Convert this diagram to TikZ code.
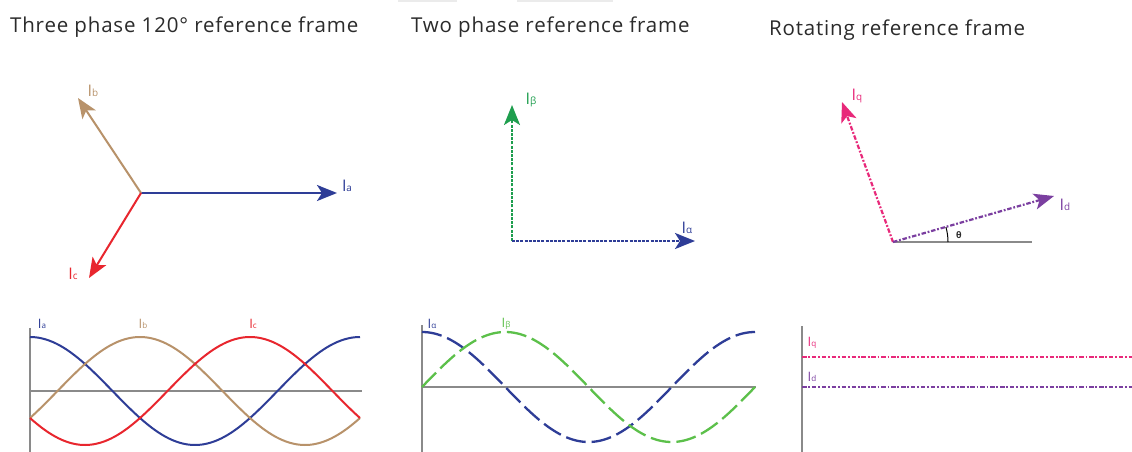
\documentclass[tikz,border=0pt]{standalone}
\usepackage{fontspec}
\setmainfont{Open Sans}
\usetikzlibrary{arrows.meta,calc}
\definecolor{cA}{HTML}{2E3D97}
\definecolor{cB}{HTML}{B8926A}
\definecolor{cC}{HTML}{E8262E}
\definecolor{cG}{HTML}{1E9E4E}
\definecolor{cLG}{HTML}{5CC04A}
\definecolor{cQ}{HTML}{E8297A}
\definecolor{cD}{HTML}{7B3FA0}
\definecolor{cAx}{HTML}{8A8A8A}
\definecolor{cT}{HTML}{2B2B2B}
\newcommand{\lsub}[1]{{\fontsize{0.62em}{0.7em}\selectfont\raisebox{-0.6pt}{#1}}}
\begin{document}
\begin{tikzpicture}[x=1pt,y=-1pt,
  title/.style={anchor=base west,inner sep=0pt,text=cT,font=\fontsize{20.5}{22}\selectfont\addfontfeature{LetterSpace=4}},
  lbl/.style={inner sep=0pt,font=\fontsize{16}{17}\selectfont},
  slbl/.style={inner sep=0pt,font=\fontsize{13}{14}\selectfont},
  phasor/.style={line width=2pt,-{Stealth[length=20pt,width=16pt,inset=5pt]}},
  axis/.style={cAx,line width=2.8pt},
  wave/.style={line width=2pt},
  fdash/.style={dash pattern=on 3pt off 1.2pt},
  ddot/.style={dash pattern=on 4.5pt off 1.8pt on 1.8pt off 1.8pt},
  ldash/.style={dash pattern=on 20pt off 6pt}]
\useasboundingbox (0,0) rectangle (1132,452);
\fill[white] (0,0) rectangle (1132,452);
\fill[black!8] (398,0) rectangle (457,2.5);
\fill[black!8] (517,0) rectangle (613,2.5);
% titles
\node[title] (t1) at (10,33) {Three phase 120° reference frame};
\node[title] (t2) at (411,33) {Two phase reference frame};
\node[title] (t3) at (769,36) {Rotating reference frame};
% panel 1 phasors
\coordinate (o1) at (141,193);
\coordinate (ta) at (337,193);
\coordinate (tb) at (78,98);
\coordinate (tc) at (89,278);
\draw[phasor,cA] (o1) -- (ta);
\draw[phasor,cB] (o1) -- (tb);
\draw[phasor,cC] (o1) -- (tc);
\node[lbl,text=cA] (la) at (347,186) {I\lsub{a}};
\node[lbl,text=cB] (lb) at (93,91) {I\lsub{b}};
\node[lbl,text=cC] (lc) at (73,274) {I\lsub{c}};
% panel 2 phasors
\coordinate (o2) at (512,241);
\coordinate (tbe) at (512,105);
\coordinate (tal) at (695,241);
\draw[phasor,cG,fdash,line width=2.2pt] (o2) -- (tbe);
\draw[phasor,cA,fdash,line width=2.2pt] (o2) -- (tal);
\node[lbl,text=cG] (lbe) at (531,100) {I\lsub{β}};
\node[lbl,text=cA] (lal) at (687,228) {I\lsub{α}};
% panel 3 phasors
\coordinate (o3) at (893,242);
\coordinate (e3) at (1032,242);
\coordinate (tq) at (842,102);
\coordinate (td) at (1054,196);
\coordinate (a3) at (948,242);
\draw[axis,line width=2pt] (o3) -- (e3);
\draw[phasor,cQ,ddot,line width=2.2pt] (o3) -- (tq);
\draw[phasor,cD,ddot,line width=2.2pt] (o3) -- (td);
\draw[black,line width=1pt] (a3) arc[start angle=0,end angle=-15.7,radius=55];
\node[lbl,text=cQ] (lq) at (857,96) {I\lsub{q}};
\node[lbl,text=cD] (ld) at (1065,205) {I\lsub{d}};
\node[inner sep=0pt,font=\fontsize{9}{10}\selectfont\bfseries,text=cT] (th) at (959,235) {θ};
% bottom panel 1
\draw[axis] (30,328) -- (30,452);
\draw[axis] (29,391) -- (362,391);
\draw[wave,cA,domain=0:360,samples=120] plot ({30+\x*0.91667},{391-54*cos(\x)});
\draw[wave,cB,domain=0:360,samples=120] plot ({30+\x*0.91667},{391-54*cos(\x-120)});
\draw[wave,cC,domain=0:360,samples=120] plot ({30+\x*0.91667},{391-54*cos(\x-240)});
\node[slbl,text=cA] (wa) at (42,324) {I\lsub{a}};
\node[slbl,text=cB] (wb) at (143,324) {I\lsub{b}};
\node[slbl,text=cC] (wc) at (253,324) {I\lsub{c}};
% bottom panel 2
\draw[axis] (422,325) -- (422,452);
\draw[axis] (421,387) -- (756,387);
\draw[wave,cA,ldash,line width=2.3pt,domain=0:360,samples=120] plot ({422+\x*0.925},{387-55*cos(\x)});
\draw[wave,cLG,ldash,line width=2.3pt,domain=0:360,samples=120] plot ({422+\x*0.925},{387-55*sin(\x)});
\node[slbl,text=cA] (wal) at (432,324) {I\lsub{α}};
\node[slbl,text=cLG] (wbe) at (506,324) {I\lsub{β}};
% bottom panel 3
\draw[axis] (802,326) -- (802,452);
\draw[wave,cQ,ddot,line width=2.3pt] (802,357) -- (1132,357);
\draw[wave,cD,ddot,line width=2.3pt] (802,387) -- (1132,387);
\node[slbl,text=cQ] (wq) at (812,343) {I\lsub{q}};
\node[slbl,text=cD] (wd) at (812,377) {I\lsub{d}};
\end{tikzpicture}
\end{document}
